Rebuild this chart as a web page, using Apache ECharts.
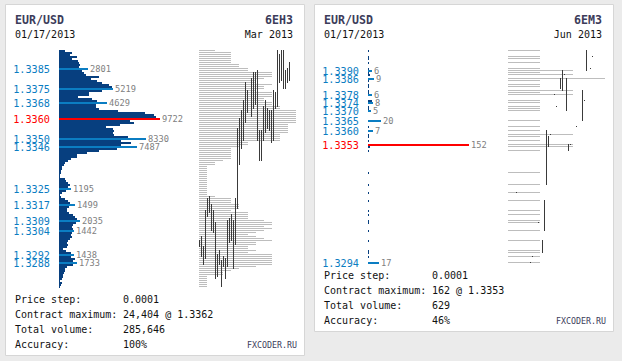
<!DOCTYPE html>
<html><head><meta charset="utf-8">
<script src="https://cdn.jsdelivr.net/npm/echarts@6/dist/echarts.min.js"></script>
<style>html,body{margin:0;padding:0;background:#ebebeb;}#c{width:622px;height:361px;}</style>
</head><body><div id="c"></div>
<script>
const STEP = 0.0001;

// ---------- Left panel: EUR/USD 6EH3 (Mar 2013) ----------
const topPriceL = 1.3394, levelCountL = 119;           // price ladder 1.3394 .. 1.3276
const volumeL = [
  580,1250,1060,1730,1250,1830,1930,2020,1930,1930,
  2210,2410,2600,3850,3080,3660,4140,4820,5100,4910,
  4140,2890,2890,1830,3180,3660,3660,3560,3560,3850,
  5680,8280,9150,9340,8860,6840,7220,5870,4530,5200,
  5300,5200,5300,6640,6550,5970,6930,5970,5680,5590,
  3850,2700,1730,1730,1160,870,580,480,290,290,
  190,190,100,100,580,670,870,1060,870,580,
  670,290,100,190,580,870,1060,1160,960,770,
  770,960,1350,1540,1730,2020,1640,1350,1250,1350,
  1250,1250,1160,1250,1060,870,770,870,770,390,
  670,1160,1250,1160,1540,1350,1350,1350,770,580,
  580,480,390,390,290,100,290,190,100
];
const grayL = [
  2,4,4,4,4,4,4,5,5,6,
  6,9,9,9,8,7,7,9,8,8,
  7,9,9,9,8,8,9,9,10,10,
  12,12,12,12,12,12,12,11,11,11,
  11,11,10,10,10,10,6,6,5,4,
  4,4,4,4,4,3,2,2,1,1,
  1,1,1,1,1,1,1,1,1,1,
  1,1,1,2,4,4,4,5,5,5,
  4,6,6,6,6,8,9,9,8,9,
  8,7,6,7,8,9,7,7,6,6,
  7,6,9,9,9,9,9,9,7,5,
  4,3,3,1,1,1,1,1,1
];
const highlightPricesL = [1.3385,1.3375,1.3368,1.3360,1.3350,1.3346,1.3325,1.3317,1.3309,1.3304,1.3292,1.3288];
const highlightValuesL = [2801,5219,4629,9722,8330,7487,1195,1499,2035,1442,1438,1733];
const maxPriceL = 1.3360;
const barHighL = [1.3299,1.3301,1.3296,1.3314,1.3320,1.3321,1.3317,1.3314,1.3308,1.3292,
  1.3294,1.3289,1.3291,1.3290,1.3309,1.3310,1.3312,1.3309,1.3320,1.3355,
  1.3360,1.3364,1.3369,1.3378,1.3374,null,1.3380,1.3383,1.3383,1.3384,
  1.3354,1.3354,1.3366,1.3369,1.3365,1.3364,1.3364,1.3374,1.3373,1.3394,
  1.3392,1.3394,1.3394,1.3384,1.3385,1.3388];
const barLowL = [1.3296,1.3291,1.3287,1.3290,1.3311,1.3313,1.3304,1.3303,1.3280,1.3281,
  1.3287,1.3276,1.3286,1.3280,1.3286,1.3298,1.3299,1.3285,1.3297,1.3315,
  1.3337,1.3345,1.3349,1.3358,1.3363,null,1.3361,1.3365,1.3367,1.3349,
  1.3339,1.3339,1.3349,1.3353,1.3355,1.3354,1.3348,1.3349,1.3365,1.3366,
  1.3378,1.3379,1.3375,1.3375,1.3378,1.3379];
const statsL = ['0.0001','24,404 @ 1.3362','285,646','100%'];

// ---------- Right panel: EUR/USD 6EM3 (Jun 2013) ----------
const topPriceR = 1.3400, levelCountR = 107;           // price ladder 1.3400 .. 1.3294
const tradePricesR = [1.3400,1.3397,1.3396,1.3394,1.3391,1.3390,1.3389,1.3388,1.3386,1.3385,
  1.3383,1.3382,1.3380,1.3379,1.3378,1.3375,1.3374,1.3372,1.3371,1.3370,
  1.3365,1.3362,1.3360,1.3358,1.3357,1.3355,1.3353,1.3352,1.3350,1.3339,
  1.3333,1.3329,1.3325,1.3320,1.3318,1.3315,1.3314,1.3310,1.3305,1.3300,
  1.3299,1.3297,1.3294];
const volumeR = [1,1,1,1,2,6,1,3,9,1, 1,1,1,1,6,6,8,2,1,5, 20,1,7,1,1,2,152,3,1,1, 1,1,2,1,1,1,1,1,1,2, 2,1,17];
const grayR = [4,4,4,4,4,8,4,8,12,4, 4,4,8,4,8,4,4,4,4,4, 4,4,4,8,4,4,8,8,4,4, 4,4,4,4,4,4,4,4,4,4, 4,4,4];
const highlightPricesR = [1.3390,1.3386,1.3378,1.3374,1.3370,1.3365,1.3360,1.3353,1.3294];
const highlightValuesR = [6,9,6,8,5,20,7,152,17];
const maxPriceR = 1.3353;
const barSlotsR = [4,11,12,15,17,18,19,20,21,23,24,26,27,28,29,30,31,34,37,38,39,41,42];
const barHighR = [1.3329,1.3294,1.3297,1.3314,1.3305,1.3325,1.3360,1.3357,1.3358,1.3378,1.3372,1.3386,1.3390,1.3388,1.3386,1.3353,1.3353,1.3362,1.3380,1.3375,1.3400,1.3391,1.3397];
const barLowR  = [1.3329,1.3294,1.3297,1.3314,1.3299,1.3310,1.3333,1.3352,1.3358,1.3378,1.3372,1.3381,1.3380,1.3388,1.3370,1.3350,1.3353,1.3362,1.3365,1.3375,1.3390,1.3391,1.3397];
const statsR = ['0.0001','162 @ 1.3353','629','46%'];
const statLabels = ['Price step:','Contract maximum:','Total volume:','Accuracy:'];

// ---------- styles ----------
const DARK = '#073f7f', HL = '#0b7dc2', RED = '#ff0000', LBL = '#0b7dc2';
const GRAY = '#bdbdbd', CANDLE = '#3a3a3a', NAVY = '#3c3c5a';
const MONO = '"DejaVu Sans Mono", "Liberation Mono", monospace';

const r4 = v => Math.round(v * 10000) / 10000;
function ladder(top, n) { const a = []; for (let k = 0; k < n; k++) a.push(r4(top - k * STEP)); return a; }
const levelsL = ladder(topPriceL, levelCountL);
const levelsR = ladder(topPriceR, levelCountR);

function profileItem(params, api) {
  const v = api.value(0), p = api.value(1);
  const a = api.coord([0, p]), b = api.coord([v, p]);
  const h = api.size([0, STEP])[1];
  const w = Math.max(1, Math.round(b[0] - a[0]));
  return {type: 'rect', shape: {x: Math.round(a[0]), y: Math.round(a[1] - h / 2), width: w, height: h}, style: {fill: DARK}};
}
function makeHighlight(maxPrice) {
  return function (params, api) {
    const v = api.value(0), p = api.value(1);
    const a = api.coord([0, p]), b = api.coord([v, p]);
    const h = api.size([0, STEP])[1];
    const isMax = Math.abs(p - maxPrice) < 1e-7;
    const w = Math.max(1, Math.round(b[0] - a[0]));
    const x0 = Math.round(a[0]), y = Math.round(a[1] - h / 2);
    return {type: 'group', children: [
      {type: 'rect', shape: {x: x0, y: y, width: w, height: h}, style: {fill: isMax ? RED : HL}},
      {type: 'text', style: {text: String(v), x: x0 + w + 2, y: y + h / 2, fill: '#808080',
        font: '8.7px ' + MONO, align: 'left', verticalAlign: 'middle', textAlign: 'left', textVerticalAlign: 'middle'}},
      {type: 'text', style: {text: p.toFixed(4), x: x0 - 9, y: y + h / 2, fill: isMax ? RED : LBL,
        font: '10.2px ' + MONO, align: 'right', verticalAlign: 'middle', textAlign: 'right', textVerticalAlign: 'middle'}}
    ]};
  };
}
function grayItem(params, api) {
  const u = api.value(0), p = api.value(1);
  const a = api.coord([0, p]), b = api.coord([u, p]);
  const h = api.size([0, STEP])[1];
  return {type: 'rect', shape: {x: Math.round(a[0]), y: Math.round(a[1] - h / 2), width: Math.round(b[0] - a[0]), height: h / 2}, style: {fill: GRAY}};
}
function barItem(params, api) {
  const i = api.value(0), hi = api.value(1), lo = api.value(2);
  const t = api.coord([i, hi]), d = api.coord([i, lo]);
  const h = api.size([0, STEP])[1];
  const y0 = Math.round(t[1] - h / 2), y1 = Math.round(d[1] - h / 2) + 1;
  return {type: 'rect', shape: {x: Math.round(t[0] - 0.5), y: y0, width: 1, height: y1 - y0}, style: {fill: CANDLE}};
}

// ---------- axes/grids ----------
const grids = [], xAxes = [], yAxes = [], series = [];
function addGrid(left, width, height, xmin, xmax, ymin, ymax) {
  grids.push({left: left, top: 50, width: width, height: height, containLabel: false});
  const gi = grids.length - 1;
  xAxes.push({type: 'value', gridIndex: gi, min: xmin, max: xmax, show: false});
  yAxes.push({type: 'value', gridIndex: gi, min: ymin, max: ymax, show: false});
  return gi;
}
function panel(ox, levels, volPrices, vol, grayVals, hlP, hlV, maxP, slots, hi, lo, volMax) {
  const ymax = r4(levels[0]) + STEP / 2, ymin = r4(levels[levels.length - 1]) - STEP / 2;
  const h = levels.length * 2;
  const g0 = addGrid(59 + ox, 125, h, 0, volMax, ymin, ymax);
  const g1 = addGrid(199 + ox, 97, h, 0, 12, ymin, ymax);
  const g2 = addGrid(199 + ox, 100, h, -0.25, 49.75, ymin, ymax);
  series.push({type: 'custom', xAxisIndex: g1, yAxisIndex: g1, renderItem: grayItem, clip: false,
    data: grayVals.map((u, k) => [u, volPrices[k]]), encode: {x: 0, y: 1}, silent: true});
  series.push({type: 'custom', xAxisIndex: g2, yAxisIndex: g2, renderItem: barItem, clip: false, z: 3,
    data: slots.map((s, k) => [s, hi[k], lo[k]]).filter(d => d[1] != null), encode: {x: 0, y: [1, 2]}, silent: true});
  series.push({type: 'custom', xAxisIndex: g0, yAxisIndex: g0, renderItem: profileItem, clip: false,
    data: vol.map((v, k) => [v, volPrices[k]]), encode: {x: 0, y: 1}, silent: true});
  series.push({type: 'custom', xAxisIndex: g0, yAxisIndex: g0, renderItem: makeHighlight(maxP), clip: false, z: 4,
    data: hlV.map((v, k) => [v, hlP[k]]), encode: {x: 0, y: 1}, silent: true});
}
panel(0, levelsL, levelsL, volumeL, grayL, highlightPricesL, highlightValuesL, maxPriceL,
  barHighL.map((_, i) => i), barHighL, barLowL, 12030);
panel(309, levelsR, tradePricesR, volumeR, grayR, highlightPricesR, highlightValuesR, maxPriceR,
  barSlotsR, barHighR, barLowR, 188);

// ---------- texts ----------
function txt(text, x, y, font, fill, align) {
  return {type: 'text', z: 100, silent: true, style: {text: text, x: x, y: y, font: font, fill: fill,
    align: align || 'left', verticalAlign: 'middle', textAlign: align || 'left', textVerticalAlign: 'middle'}};
}
const els = [
  {type: 'rect', z: -10, silent: true, shape: {x: 5.5, y: 4.5, width: 299, height: 351}, style: {fill: '#ffffff', stroke: '#d6d6d6', lineWidth: 1}},
  {type: 'rect', z: -10, silent: true, shape: {x: 314.5, y: 4.5, width: 299, height: 327}, style: {fill: '#ffffff', stroke: '#d6d6d6', lineWidth: 1}}
];
function header(ox, right, ticker, month) {
  els.push(txt('EUR/USD', 15 + ox, 20, 'bold 11.6px ' + MONO, NAVY));
  els.push(txt('01/17/2013', 15 + ox, 34, '10px ' + MONO, '#111111'));
  els.push(txt(ticker, right, 20, 'bold 11.6px ' + MONO, NAVY, 'right'));
  els.push(txt(month, right, 34, '10px ' + MONO, '#111111', 'right'));
}
header(0, 293, '6EH3', 'Mar 2013');
header(309, 602, '6EM3', 'Jun 2013');
function stats(ox, y0, vals, brandRight) {
  for (let i = 0; i < 4; i++) {
    els.push(txt(statLabels[i], 15 + ox, y0 + i * 15, '10px ' + MONO, '#111111'));
    els.push(txt(vals[i], 123 + ox, y0 + i * 15, '10px ' + MONO, '#111111'));
  }
  els.push(txt('FXCODER.RU', brandRight, y0 + 45.5, '8.3px ' + MONO, NAVY, 'right'));
}
stats(0, 299, statsL, 297);
stats(309, 275.5, statsR, 606);

const chart = echarts.init(document.getElementById('c'), null, {renderer: 'svg', width: 622, height: 361});
chart.setOption({
  animation: false,
  backgroundColor: '#ebebeb',
  grid: grids, xAxis: xAxes, yAxis: yAxes,
  graphic: {elements: els},
  series: series
});
</script></body></html>
